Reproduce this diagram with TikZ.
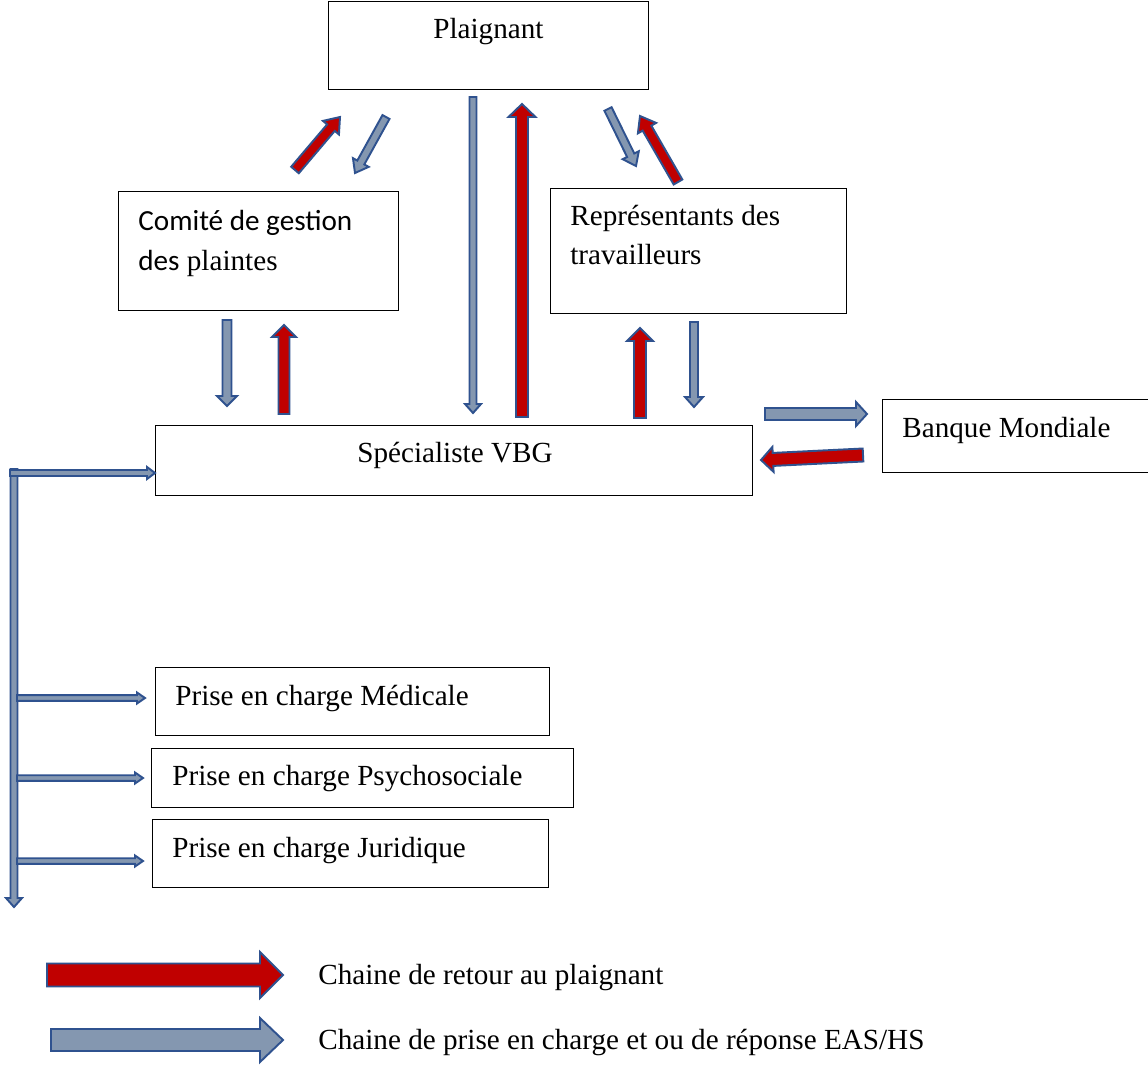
\documentclass[tikz,border=0pt]{standalone}
\usepackage{fontspec}
\setmainfont{Liberation Serif}
\newfontfamily\calib{Carlito}
\usetikzlibrary{calc}
\definecolor{redf}{HTML}{C00000}
\definecolor{bluef}{HTML}{8497B0}
\definecolor{bord}{HTML}{2F528F}
% #1 style, #2 tail, #3 tip, #4 shaft half width (px), #5 head half width (px), #6 head length (px)
\newcommand\blkarrow[6]{%
  \coordinate (hb) at ($(#3)!#6*0.02cm!(#2)$);
  \draw[#1] ($(#2)!#4*0.02cm!90:(#3)$) -- ($(hb)!#4*0.02cm!90:(#3)$) -- ($(hb)!#5*0.02cm!90:(#3)$) -- (#3) -- ($(hb)!#5*0.02cm!-90:(#3)$) -- ($(hb)!#4*0.02cm!-90:(#3)$) -- ($(#2)!#4*0.02cm!-90:(#3)$) -- cycle;}
\begin{document}
\begin{tikzpicture}[x=0.02cm,y=-0.02cm,
  box/.style={draw=black, line width=0.8pt, anchor=north west, inner sep=0pt},
  lbl/.style={anchor=base west, inner sep=0pt, font=\fontsize{16.6}{22.8}\selectfont, align=left},
  redarr/.style={fill=redf, draw=bord, line width=1.1pt, line join=miter},
  bluearr/.style={fill=bluef, draw=bord, line width=1.1pt, line join=miter},
  pipe/.style={fill=bluef, draw=bord, line width=1.1pt, line join=miter}]
\useasboundingbox (0,0) rectangle (1148,1065);
\fill[white] (0,0) rectangle (1148,1065);

% boxes
\node[box, minimum width=6.4cm, minimum height=1.76cm] (plaignant) at (328,1) {};
\node[box, minimum width=5.6cm, minimum height=2.38cm] (comite) at (118,191) {};
\node[box, minimum width=5.92cm, minimum height=2.5cm] (repr) at (550,188) {};
\node[box, minimum width=11.94cm, minimum height=1.4cm] (vbg) at (155,425) {};
\node[box, minimum width=5.4cm, minimum height=1.46cm] (banque) at (882,399) {};
\node[box, minimum width=7.88cm, minimum height=1.36cm] (medic) at (155,667) {};
\node[box, minimum width=8.44cm, minimum height=1.18cm] (psycho) at (151,748) {};
\node[box, minimum width=7.92cm, minimum height=1.36cm] (jurid) at (152,819) {};

% texts
\node[lbl] (t-plaignant) at (433,38) {Plaignant};
\node[lbl] (t-comite1) at (138,230) {\calib Comité de gestion};
\node[lbl] (t-comite2) at (138,270) {{\calib des} plaintes};
\node[lbl] (t-repr1) at (570,225) {Représentants des};
\node[lbl] (t-repr2) at (570,264) {travailleurs};
\node[lbl] (t-vbg) at (357,462) {Spécialiste VBG};
\node[lbl] (t-banque) at (902,437) {Banque Mondiale};
\node[lbl] (t-medic) at (175,705) {Prise en charge Médicale};
\node[lbl] (t-psycho) at (172,785) {Prise en charge Psychosociale};
\node[lbl] (t-jurid) at (172,857) {Prise en charge Juridique};
\node[lbl] (t-leg1) at (318,984) {Chaine de retour au plaignant};
\node[lbl] (t-leg2) at (318,1049) {Chaine de prise en charge et ou de réponse EAS/HS};

% arrow end points
\coordinate (a1s) at (295,170);  \coordinate (a1e) at (340,117);
\coordinate (a2s) at (386,117);  \coordinate (a2e) at (355,173);
\coordinate (a3s) at (473,97);   \coordinate (a3e) at (473,413);
\coordinate (a4s) at (522,417);  \coordinate (a4e) at (522,104);
\coordinate (a5s) at (608,109);  \coordinate (a5e) at (636,166);
\coordinate (a6s) at (678,182);  \coordinate (a6e) at (640,116);
\coordinate (a7s) at (227,320);  \coordinate (a7e) at (227,406);
\coordinate (a8s) at (284,414);  \coordinate (a8e) at (284,325);
\coordinate (a9s) at (640,418);  \coordinate (a9e) at (640,328);
\coordinate (a10s) at (694,322); \coordinate (a10e) at (694,407);
\coordinate (a11s) at (765,414); \coordinate (a11e) at (867,414);
\coordinate (a12s) at (863,455); \coordinate (a12e) at (761,460);
\coordinate (p0s) at (14,469);   \coordinate (p0e) at (14,907);
\coordinate (p1s) at (10,473);   \coordinate (p1e) at (vbg.west |- 0,473);
\coordinate (p2s) at (17,698);   \coordinate (p2e) at (145,698);
\coordinate (p3s) at (17,778);   \coordinate (p3e) at (143,778);
\coordinate (p4s) at (17,861);   \coordinate (p4e) at (143,861);
\coordinate (l1s) at (47,975);   \coordinate (l1e) at (283,975);
\coordinate (l2s) at (51,1040);  \coordinate (l2e) at (283,1040);

% block arrows
\blkarrow{redarr}{a1s}{a1e}{5}{10.5}{14}
\blkarrow{bluearr}{a2s}{a2e}{4}{9}{12}
\blkarrow{bluearr}{a3s}{a3e}{3.5}{8}{9}
\blkarrow{redarr}{a4s}{a4e}{6}{13.5}{13}
\blkarrow{bluearr}{a5s}{a5e}{4}{9}{12}
\blkarrow{redarr}{a6s}{a6e}{5}{10.5}{14}
\blkarrow{bluearr}{a7s}{a7e}{4.5}{10}{10}
\blkarrow{redarr}{a8s}{a8e}{5.5}{12}{12}
\blkarrow{redarr}{a9s}{a9e}{6}{13}{13}
\blkarrow{bluearr}{a10s}{a10e}{4}{9}{10}
\blkarrow{bluearr}{a11s}{a11e}{6}{12}{11}
\blkarrow{redarr}{a12s}{a12e}{6.5}{12.5}{12}

% left distribution pipe
\blkarrow{pipe}{p0s}{p0e}{3.5}{8}{9}
\blkarrow{pipe}{p1s}{p1e}{3}{6}{8}
\blkarrow{pipe}{p2s}{p2e}{2.8}{5.5}{8}
\blkarrow{pipe}{p3s}{p3e}{2.8}{5.5}{8}
\blkarrow{pipe}{p4s}{p4e}{2.8}{5.5}{8}

% legend
\blkarrow{redarr}{l1s}{l1e}{11.5}{23}{23}
\blkarrow{bluearr}{l2s}{l2e}{11}{22}{23}
\end{tikzpicture}
\end{document}
